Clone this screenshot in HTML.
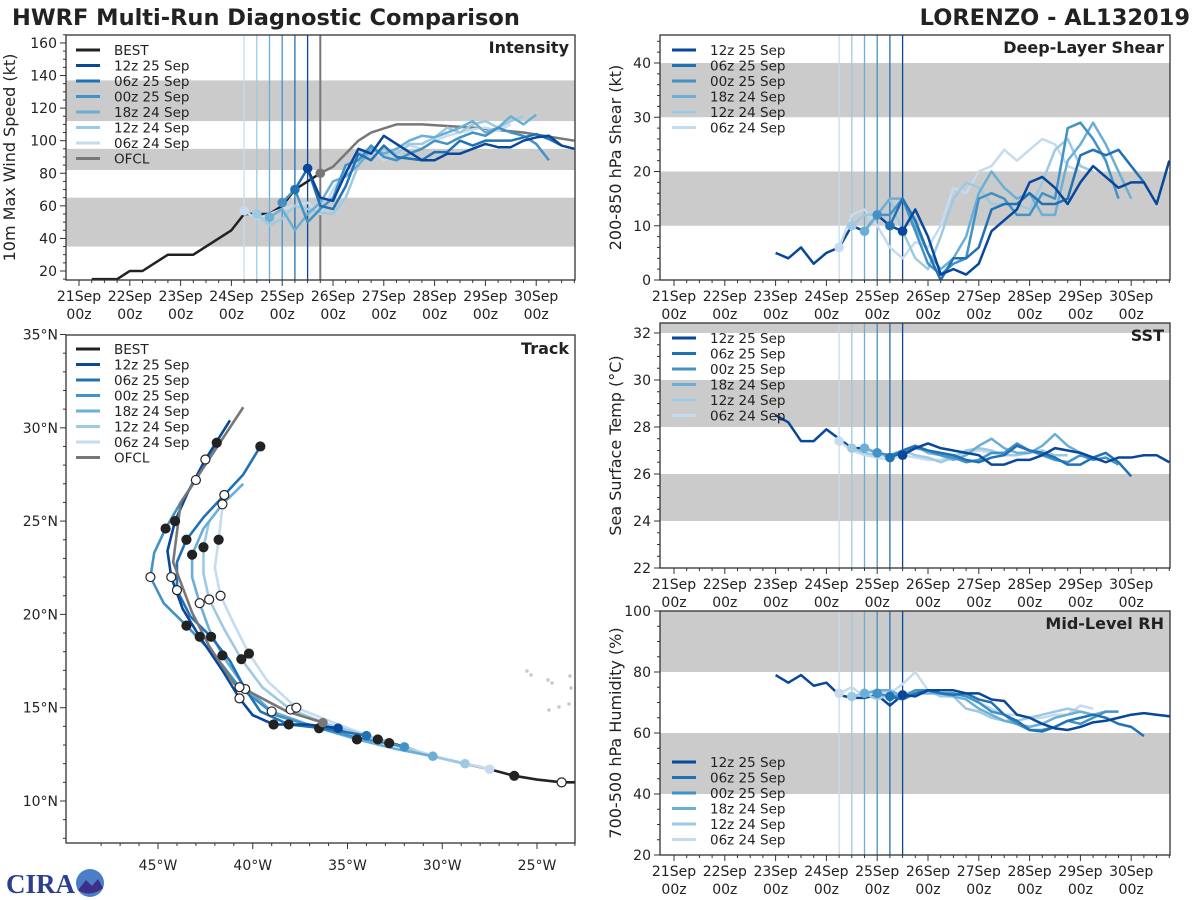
<!DOCTYPE html>
<html><head><meta charset="utf-8"><style>
body{margin:0;background:#fff;}
svg{display:block;font-family:"DejaVu Sans","Liberation Sans",sans-serif;}
</style></head><body>
<svg id="fig" width="1200" height="900" viewBox="0 0 1200 900">
<text x="12" y="25" font-size="22.5" font-weight="bold" fill="#222">HWRF Multi-Run Diagnostic Comparison</text>
<text x="1190" y="25" font-size="22.5" font-weight="bold" fill="#222" text-anchor="end">LORENZO - AL132019</text>
<g>
<text x="6" y="893" font-size="27" font-weight="bold" fill="#2a3f8f" font-family="Liberation Serif, serif">CIRA</text>
<circle cx="90" cy="883" r="14" fill="#4a7fc8"/><path d="M78 890 L86 880 L92 886 L98 879 L103 888 Q90 898 78 890Z" fill="#3b2f88"/>
</g>
</svg>
<script>
// ===== DATA =====
const runNames = ["12z 25 Sep","06z 25 Sep","00z 25 Sep","18z 24 Sep","12z 24 Sep","06z 24 Sep"];
const runInitHours = [108,102,96,90,84,78];
const bestIntStart = 6;
const bestIntensity = [15,15,15,20,20,25,30,30,30,35,40,45,55,55,55,60,70,75,80];
const ofclHours = [114,120,126,132,138,150,162,186,210,234];
const ofclIntensity = [80,84,92,100,105,110,110,108,105,100];
const int12z25 = [83,65,63,80,95,92,103,98,93,88,88,92,92,95,98,96,96,100,102,103,97,95];
const int06z25 = [70,83,60,58,72,92,88,97,90,89,88,93,93,100,97,100,100,100,102,104,101,97];
const int00z25 = [62,70,50,58,65,85,88,97,90,88,92,95,100,98,102,105,103,108,105,103,98,88];
const int18z24 = [53,58,45,55,62,75,78,85,95,92,95,100,103,102,105,108,112,105,108,115,110,116];
const int12z24 = [55,48,52,60,58,56,55,65,85,93,95,92,98,98,102,108,105,110,112,108,112,115];
const int06z24 = [57,52,55,58,60,62,55,70,82,90,95,88,92,97,95,100,103,105,107,108,106,110];
const histStart = 48;
const shearHist = [5,4,6,3,5,6,10,9,12,10,9];
const shear12z25 = [9,13,8,1,2,1,3,9,11,13,18,19,17,14,18,21,19,17,18,18,14,22];
const shear06z25 = [10,15,11,5,0,4,4,6,13,14,14,16,14,14,15,23,24,23,24,21,18];
const shear00z25 = [12,12,15,9,3,1,3,4,15,16,15,12,12,16,15,28,29,26,22,15];
const shear18z24 = [9,12,15,15,10,5,2,4,8,16,20,17,15,16,12,12,22,25,29,25,20,15];
const shear12z24 = [10,12,12,15,9,4,2,8,15,18,17,14,14,14,13,18,24,26,21,20];
const shear06z24 = [6,12,13,10,6,4,7,6,10,17,16,20,21,24,22,24,26,25,21,20];
const sstHist = [28.5,28.2,27.4,27.4,27.9,27.5,27.1,27.1,26.9,26.7,26.8];
const sst12z25 = [26.8,27.1,27.3,27.1,27.0,26.9,26.8,26.4,26.4,26.6,26.6,26.8,27.1,27.0,26.9,26.7,26.5,26.7,26.7,26.8,26.8,26.5];
const sst06z25 = [26.7,27.0,27.2,27.0,26.9,26.8,26.6,26.5,26.7,26.8,27.2,27.0,26.9,26.7,26.4,26.4,26.7,26.9,26.5,25.9];
const sst00z25 = [26.9,26.8,26.9,27.1,27.0,26.8,26.7,26.5,26.6,26.9,26.9,27.3,27.0,26.8,26.6,26.5,26.8,26.6,26.7,26.4];
const sst18z24 = [27.1,26.9,26.8,27.0,27.2,26.9,26.8,26.6,26.8,27.2,27.5,27.1,26.9,26.9,27.2,27.7,27.2,26.9];
const sst12z24 = [27.1,26.9,26.8,26.8,27.0,26.8,26.7,26.5,26.7,27.0,27.1,27.0,26.8,26.8,26.9,27.0,26.8,26.8];
const sst06z24 = [27.4,27.0,26.8,26.7,26.6,26.8,26.7,26.6,26.6,26.8,26.9,27.0,26.9,26.8,26.8,27.0,26.9];
const rhHist = [79,76.5,79,75.5,76.5,72.5,71.5,71.5,72.5,69,72.5];
const rh12z25 = [72.5,72,74,74,74,73,73,71,70.5,66,65,63,61.5,61,62,63.5,64,65,66,66.5,66,65.5,63];
const rh06z25 = [72,71,73,74,73,72.5,73,71,70,66,64,61,60.5,62,64,65,66,65,63,62,59];
const rh00z25 = [73,72,72,74,74,73,73,72,70,67,66,63,61,61,62,64,63,65,67,67];
const rh18z24 = [73,74,74,72,73,73,73,72,71,68,66,64,63,62,63,65,66,67,66,67];
const rh12z24 = [72,73,71,73,72,73,74,72,72,68,67,65,64,64,65,66,67,68,67,66];
const rh06z24 = [73,75,72,74,73,76,80,74,72,73,72,70,68,66,66,65,65,66,66,69,68];
const bestTrack = [[-22.5,11.0],[-23.7,11.0],[-25.0,11.15],[-26.2,11.35],[-27.5,11.7],[-28.8,12.0],[-30.5,12.4],[-32.0,12.9],[-34.0,13.5],[-35.5,13.9],[-36.3,14.2]];
const ofclTrack = [[-36.3,14.2],[-38.2,14.8],[-41.0,16.3],[-42.3,18.3],[-43.2,20.1],[-44.2,22.8],[-43.8,26.0],[-42.9,27.4],[-40.5,31.1]];
const trk12z25 = [[-35.5,13.9],[-37.1,14.1],[-38.9,14.1],[-40.0,14.6],[-40.7,15.5],[-41.6,17.0],[-42.8,18.8],[-43.7,20.3],[-44.3,22.0],[-44.5,23.4],[-44.1,25.0],[-43.4,26.6],[-42.5,28.3],[-41.2,30.4]];
const trk06z25 = [[-34.0,13.5],[-36.3,13.9],[-38.1,14.1],[-39.6,14.8],[-40.4,16.0],[-41.2,17.5],[-42.2,18.8],[-43.3,19.9],[-44.0,21.3],[-44.0,22.8],[-43.5,24.0],[-42.6,25.2],[-41.5,26.4],[-40.5,27.5],[-39.6,29.0]];
const trk00z25 = [[-32.0,12.9],[-34.5,13.4],[-36.5,13.9],[-38.8,14.6],[-40.7,16.1],[-42.0,17.8],[-43.5,19.4],[-44.7,20.6],[-45.4,22.0],[-45.2,23.3],[-44.6,24.6],[-43.8,26.0],[-43.0,27.2],[-42.3,28.5],[-41.9,29.2]];
const trk18z24 = [[-30.5,12.4],[-32.5,12.8],[-34.5,13.3],[-36.8,14.0],[-39.0,14.8],[-40.5,16.2],[-41.6,17.8],[-42.3,19.2],[-42.8,20.6],[-43.2,22.0],[-43.2,23.2],[-42.6,24.6],[-41.6,25.9],[-40.5,27.0]];
const trk12z24 = [[-28.8,12.0],[-31.0,12.5],[-33.4,13.3],[-36.0,14.1],[-38.0,14.9],[-39.5,16.1],[-40.6,17.6],[-41.5,19.2],[-42.3,20.8],[-42.6,22.2],[-42.6,23.6],[-42.3,25.0]];
const trk06z24 = [[-27.5,11.7],[-30.0,12.3],[-32.8,13.1],[-35.5,14.1],[-37.7,15.0],[-39.2,16.4],[-40.2,17.9],[-41.0,19.5],[-41.7,21.0],[-42.0,22.5],[-41.8,24.0],[-41.6,25.8]];
const dayLabels = ["21Sep","22Sep","23Sep","24Sep","25Sep","26Sep","27Sep","28Sep","29Sep","30Sep"];
const lonTicks = [-45,-40,-35,-30,-25];
const latTicks = [10,15,20,25,30,35];
const runColors = ["#08479a","#2171b5","#4292c6","#6baed6","#9ecae1","#c6dbef"];

// ===== DRAW =====
const NS="http://www.w3.org/2000/svg";
const svg=document.getElementById('fig');
function mk(tag,attrs,parent){const e=document.createElementNS(NS,tag);for(const k in attrs)e.setAttribute(k,attrs[k]);(parent||svg).appendChild(e);return e;}
function txt(x,y,s,size,anchor,parent,bold){const t=mk('text',{x:x,y:y,'font-size':size,fill:'#222','text-anchor':anchor||'start'},parent);if(bold)t.setAttribute('font-weight','bold');t.textContent=s;return t;}

function timePanel(cfg){
  const g=mk('g',{});
  
  
  const L=cfg.L,R=cfg.R,T=cfg.T,B=cfg.B;
  const xT=h=>cfg.x0+h/24*50.8;
  const yV=v=>cfg.yb-(v-cfg.vb)*cfg.k;
  const clipId='clip-'+cfg.name;
  const cp=mk('clipPath',{id:clipId},g);mk('rect',{x:L,y:T,width:R-L,height:B-T},cp);
  const inner=mk('g',{'clip-path':'url(#'+clipId+')'},g);
  cfg.bands.forEach(b=>{const r=mk('rect',{x:L,y:yV(b[1]),width:R-L,height:yV(b[0])-yV(b[1]),fill:'#cbcbcb'},inner);
    
    });
  runInitHours.forEach((h,i)=>{const l=mk('line',{x1:xT(h),x2:xT(h),y1:T,y2:B,stroke:runColors[i],'stroke-width':1.3},inner);
    
    });
  if(cfg.ofclLine){const l=mk('line',{x1:xT(114),x2:xT(114),y1:T,y2:B,stroke:'#777','stroke-width':2},inner);
    
    }
  const line=(h0,vals,col,w,name,hours)=>{const pts=vals.map((v,j)=>xT(hours?hours[j]:h0+6*j)+','+yV(v)).join(' ');
    const p=mk('polyline',{points:pts,fill:'none',stroke:col,'stroke-width':w,'stroke-linejoin':'round'},inner);
    
    };
  if(cfg.hist) line(histStart,cfg.hist,runColors[0],2.5,'history-line');
  if(cfg.best) line(bestIntStart,cfg.best,'#222',2.5,'best-line');
  if(cfg.ofcl) line(0,cfg.ofcl,'#777',2.5,'ofcl-line',ofclHours);
  for(let i=cfg.series.length-1;i>=0;i--){line(runInitHours[i],cfg.series[i],runColors[i],2.5,'run-line-'+runNames[i].replace(/ /g,'').toLowerCase());
    const c=mk('circle',{cx:xT(runInitHours[i]),cy:yV(cfg.series[i][0]),r:4.8,fill:runColors[i]},inner);
    
    }
  if(cfg.ofcl){const c=mk('circle',{cx:xT(114),cy:yV(cfg.ofcl[0]),r:4.8,fill:'#777'},inner);
    
    }
  mk('rect',{x:L,y:T,width:R-L,height:B-T,fill:'none',stroke:'#333','stroke-width':1.3},g);
  for(let v=Math.ceil(cfg.vmin/cfg.minor)*cfg.minor;v<=cfg.vmax+1e-6;v+=cfg.minor){const y=yV(v);if(y<T-0.5||y>B+0.5)continue;
    const major=Math.abs(v/cfg.major-Math.round(v/cfg.major))<1e-6;
    mk('line',{x1:L-(major?6:3),x2:L,y1:y,y2:y,stroke:'#333','stroke-width':1},g);
    if(major){const t=txt(L-9,y+5,String(v),14,'end',g);
      
      }}
  const yl=txt(0,0,cfg.ylabel,16,'middle',g);yl.setAttribute('transform','translate('+cfg.ylx+','+((T+B)/2)+') rotate(-90)');
  
  
  for(let h=0;h<=240;h+=6){const x=xT(h);if(x<L||x>R)continue;const major=h%24===0;
    mk('line',{x1:x,x2:x,y1:B,y2:B+(major?6:3),stroke:'#333','stroke-width':1},g);
    if(major&&h/24<dayLabels.length){const a=txt(x,B+21,dayLabels[h/24],14,'middle',g);
      
      
      const b=txt(x,B+39,'00z',14,'middle',g);
      
      }}
  const tt=txt(R-6,T+18,cfg.title,16,'end',g,true);
  
  
  legend(g,cfg.legX,cfg.legY,cfg.legEntries);
}
function legend(g,x,y,entries){
  const lg=mk('g',{},g);
  
  
  entries.forEach((e,i)=>{const yy=y+i*15.5;
    const l=mk('line',{x1:x,x2:x+24,y1:yy,y2:yy,stroke:e[1],'stroke-width':3},lg);
    
    
    const t=txt(x+38,yy+5,e[0],13.5,'start',lg);
    
    });
}
const runEntries=runNames.map((n,i)=>[n,runColors[i]]);
const fullEntries=[["BEST","#222"]].concat(runEntries).concat([["OFCL","#777"]]);

timePanel({name:'intensity',L:66,R:575,T:35,B:280,x0:79,yb:271,vb:20,k:1.629,vmin:10,vmax:170,major:20,minor:5,
  bands:[[35,65],[82,95],[112,137]],series:[int12z25,int06z25,int00z25,int18z24,int12z24,int06z24],best:bestIntensity,ofcl:ofclIntensity,ofclLine:true,
  ylabel:'10m Max Wind Speed (kt)',ylx:15,title:'Intensity',legX:76,legY:50,legEntries:fullEntries});
timePanel({name:'shear',L:660,R:1170,T:35,B:280,x0:674,yb:280,vb:0,k:5.425,vmin:0,vmax:46,major:10,minor:2,
  bands:[[10,20],[30,40]],series:[shear12z25,shear06z25,shear00z25,shear18z24,shear12z24,shear06z24],hist:shearHist,
  ylabel:'200-850 hPa Shear (kt)',ylx:621,title:'Deep-Layer Shear',legX:672,legY:50,legEntries:runEntries});
timePanel({name:'sst',L:660,R:1170,T:323,B:568,x0:674,yb:568,vb:22,k:23.5,vmin:22,vmax:33,major:2,minor:0.5,
  bands:[[24,26],[28,30],[32,34]],series:[sst12z25,sst06z25,sst00z25,sst18z24,sst12z24,sst06z24],hist:sstHist,
  ylabel:'Sea Surface Temp (°C)',ylx:621,title:'SST',legX:672,legY:338,legEntries:runEntries});
timePanel({name:'rh',L:660,R:1170,T:611,B:855,x0:674,yb:855,vb:20,k:3.05,vmin:20,vmax:100,major:20,minor:5,
  bands:[[40,60],[80,100]],series:[rh12z25,rh06z25,rh00z25,rh18z24,rh12z24,rh06z24],hist:rhHist,
  ylabel:'700-500 hPa Humidity (%)',ylx:621,title:'Mid-Level RH',legX:672,legY:762,legEntries:runEntries});

// ===== TRACK =====
(function(){
  const L=66,R=575,T=335,B=843;
  const xL=lon=>537+(lon+25)*18.95;
  const yL=lat=>801-(lat-10)*18.66;
  const g=mk('g',{});
  
  
  const cp=mk('clipPath',{id:'clip-track'},g);mk('rect',{x:L,y:T,width:R-L,height:B-T},cp);
  const inner=mk('g',{'clip-path':'url(#clip-track)'},g);
  [[527,671],[531,675],[548,680],[552,683],[570,676],[571,688],[549,710],[559,707],[569,704]].forEach(p=>{
    const c=mk('circle',{cx:p[0],cy:p[1],r:1.8,fill:'#c8c8c8'},inner);
    
    });
  const draw=(trk,col,name)=>{const p=mk('polyline',{points:trk.map(q=>xL(q[0])+','+yL(q[1])).join(' '),fill:'none',stroke:col,'stroke-width':2.6,'stroke-linejoin':'round'},inner);
    
    };
  const tracks=[trk12z25,trk06z25,trk00z25,trk18z24,trk12z24,trk06z24];
  draw(bestTrack,'#222','best-track');
  for(let i=tracks.length-1;i>=0;i--) draw(tracks[i],runColors[i],'track-'+runNames[i].replace(/ /g,'').toLowerCase());
  draw(ofclTrack,'#777','ofcl-track');
  const marker=(q,filled)=>{const c=mk('circle',{cx:xL(q[0]),cy:yL(q[1]),r:4.5,fill:filled?'#222':'#fff',stroke:'#222','stroke-width':1.2},inner);
    
    };
  tracks.forEach((trk,i)=>{const c=mk('circle',{cx:xL(trk[0][0]),cy:yL(trk[0][1]),r:4.8,fill:runColors[i]},inner);
    
    
    for(let j=2;j<trk.length;j+=2) marker(trk[j],(j/2)%2===1);});
  marker(bestTrack[1],false);marker(bestTrack[3],true);
  const oc=mk('circle',{cx:xL(ofclTrack[0][0]),cy:yL(ofclTrack[0][1]),r:4.8,fill:'#777'},inner);
  
  
  mk('rect',{x:L,y:T,width:R-L,height:B-T,fill:'none',stroke:'#333','stroke-width':1.3},g);
  for(let lon=-48;lon<=-23;lon++){const x=xL(lon);if(x<L||x>R)continue;const major=lon%5===0;
    mk('line',{x1:x,x2:x,y1:B,y2:B+(major?6:3),stroke:'#333'},g);}
  lonTicks.forEach(lon=>{const t=txt(xL(lon),B+27,Math.abs(lon)+'°W',14,'middle',g);
    
    });
  for(let lat=8;lat<=35;lat++){const y=yL(lat);if(y<T-0.5||y>B)continue;const major=lat%5===0;
    mk('line',{x1:L-(major?6:3),x2:L,y1:y,y2:y,stroke:'#333'},g);}
  latTicks.forEach(lat=>{const t=txt(L-8,yL(lat)+5,lat+'°N',14,'end',g);
    
    });
  const tt=txt(R-6,T+19,'Track',16,'end',g,true);
  
  
  legend(g,76,349,fullEntries);
})();
</script>
</body></html>
